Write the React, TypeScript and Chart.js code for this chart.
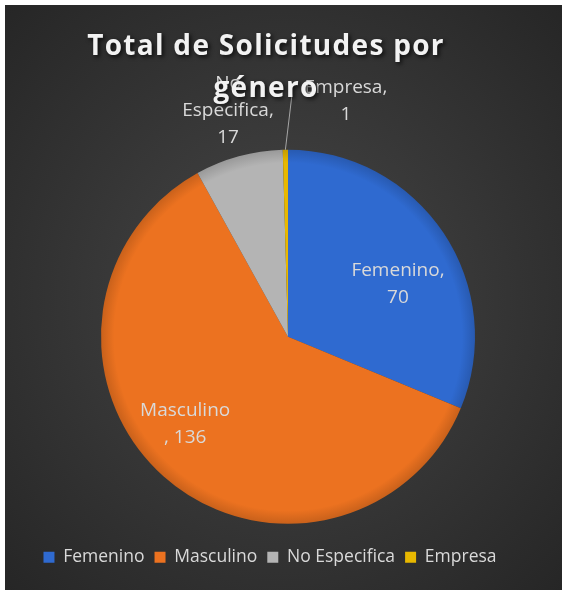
import React, { useEffect, useRef } from "react";
import { Chart, registerables } from "chart.js";

Chart.register(...registerables);

const categories = ["Femenino", "Masculino", "No Especifica", "Empresa"];
const values = [70, 136, 17, 1];
const colors = ["#2f6ad0", "#ec7220", "#b4b4b4", "#e8b800"];
const titleLines = ["Total de Solicitudes por", "género"];
// data-label placement: radius factor and angular shift (deg) per slice
const labelRadius = [0.653, 0.72, 1.25, 1.3];
const labelShift = [8, 8, 0.4, 14.6];
const leaderLine = [false, false, false, true];

function labelLines(i: number): string[] {
  const c = categories[i];
  const v = String(values[i]);
  if (i === 1) return [c, ", " + v];
  if (i === 2) {
    const parts = c.split(" ");
    return [parts[0], parts.slice(1).join(" ") + ",", v];
  }
  return [c + ",", v];
}

function shade(hex: string, f: number): string {
  const n = parseInt(hex.slice(1), 16);
  let r = (n >> 16) & 255, g = (n >> 8) & 255, b = n & 255;
  r = Math.round(r * f); g = Math.round(g * f); b = Math.round(b * f);
  return `rgb(${r},${g},${b})`;
}

const PIE_RADIUS = 187;

const customPlugin = {
  id: "custom",
  afterLayout(chart: any) {
    const lg = chart.legend;
    if (lg) {
      lg.left -= 18;
      lg.right -= 18;
    }
  },
  afterDatasetsDraw(chart: any) {
    const ctx = chart.ctx as CanvasRenderingContext2D;
    const meta = chart.getDatasetMeta(0);
    ctx.save();
    ctx.font = "19px 'Open Sans'";
    (ctx as any).letterSpacing = "0px";
    ctx.fillStyle = "#d9d9d9";
    ctx.textAlign = "center";
    ctx.textBaseline = "middle";
    meta.data.forEach((arc: any, i: number) => {
      const p = arc.getProps(["x", "y", "startAngle", "endAngle", "outerRadius"], true);
      const mid = (p.startAngle + p.endAngle) / 2 + (labelShift[i] * Math.PI) / 180;
      const rr = p.outerRadius * labelRadius[i];
      const lx = p.x + Math.cos(mid) * rr;
      const ly = p.y + Math.sin(mid) * rr;
      const lines = labelLines(i);
      const lh = 27;
      const y0 = ly - ((lines.length - 1) * lh) / 2;
      lines.forEach((t, k) => ctx.fillText(t, lx, y0 + k * lh));
      if (leaderLine[i]) {
        const am = (p.startAngle + p.endAngle) / 2;
        const sx = p.x + Math.cos(am) * p.outerRadius;
        const sy = p.y + Math.sin(am) * p.outerRadius;
        ctx.strokeStyle = "#a6a6a6";
        ctx.lineWidth = 1;
        ctx.beginPath();
        ctx.moveTo(sx, sy);
        ctx.lineTo(lx - 54, ly - 6);
        ctx.stroke();
      }
    });
    ctx.restore();
  },
  afterDraw(chart: any) {
    const ctx = chart.ctx as CanvasRenderingContext2D;
    ctx.save();
    ctx.font = "bold 28px 'Open Sans'";
    (ctx as any).letterSpacing = "1.3px";
    ctx.textAlign = "center";
    ctx.textBaseline = "alphabetic";
    ctx.fillStyle = "#f2f2f2";
    ctx.shadowColor = "rgba(0,0,0,0.75)";
    ctx.shadowBlur = 4;
    ctx.shadowOffsetX = 2;
    ctx.shadowOffsetY = 2;
    ctx.fillText(titleLines[0], 261, 50);
    ctx.fillText(titleLines[1], 261, 92);
    ctx.restore();
  },
};

export default function App() {
  const ref = useRef<HTMLCanvasElement | null>(null);
  useEffect(() => {
    document.body.style.margin = "0";
    const canvas = ref.current;
    if (!canvas) return;
    const chart = new Chart(canvas, {
      type: "pie",
      data: {
        labels: categories,
        datasets: [
          {
            data: values,
            borderWidth: 0,
            backgroundColor: (c: any) => {
              const i = c.dataIndex;
              const base = colors[i];
              const area = c.chart.chartArea;
              if (!area) return base;
              const cx = (area.left + area.right) / 2;
              const cy = (area.top + area.bottom) / 2;
              const g = c.chart.ctx.createRadialGradient(cx, cy, 0, cx, cy, PIE_RADIUS);
              g.addColorStop(0, base);
              g.addColorStop(0.93, base);
              g.addColorStop(1, shade(base, 0.85));
              return g;
            },
          },
        ],
      },
      options: {
        animation: false,
        responsive: true,
        maintainAspectRatio: false,
        radius: PIE_RADIUS,
        layout: { padding: { top: 130, left: 9, right: 0, bottom: 14 } },
        plugins: {
          title: { display: false },
          tooltip: { enabled: false },
          legend: {
            display: true,
            position: "bottom",
            labels: {
              color: "#d9d9d9",
              font: { family: "'Open Sans'", size: 17.5 },
              boxWidth: 11,
              boxHeight: 11,
              padding: 10,
              generateLabels: () =>
                categories.map((c, i) => ({
                  text: c,
                  fillStyle: colors[i],
                  strokeStyle: colors[i],
                  lineWidth: 0,
                  fontColor: "#d9d9d9",
                  hidden: false,
                  index: i,
                })),
            },
          },
        },
      } as any,
      plugins: [customPlugin],
    });
    return () => chart.destroy();
  }, []);
  return (
    <div
      style={{
        position: "absolute",
        left: 5,
        top: 5,
        width: 557,
        height: 585,
        background: "radial-gradient(ellipse at 50% 50%, #474747 0%, #333333 60%, #262626 100%)",
      }}
    >
      <canvas ref={ref} />
    </div>
  );
}
